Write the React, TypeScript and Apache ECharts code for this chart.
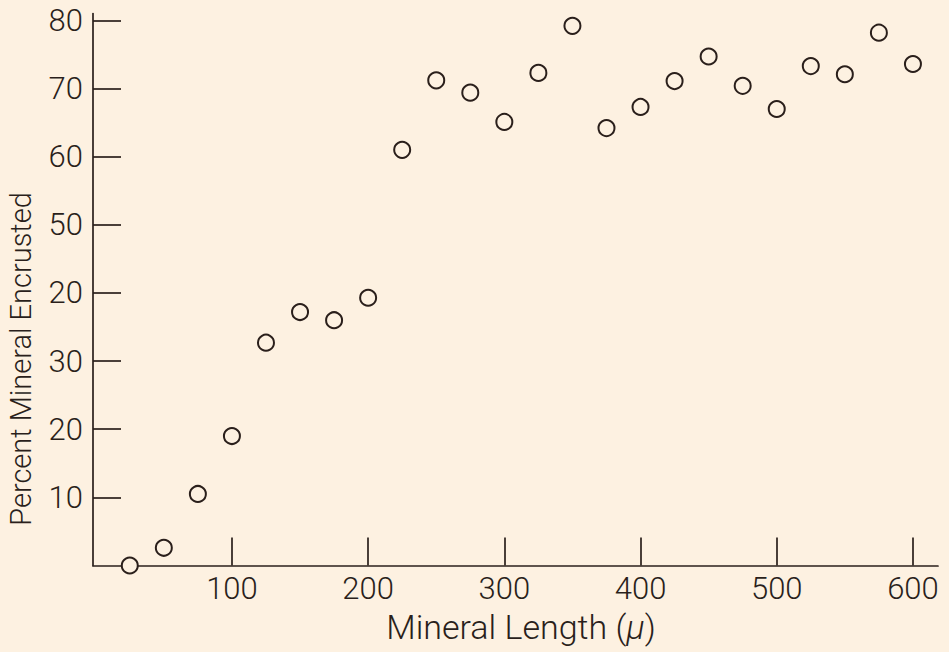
import React, { useEffect, useRef } from "react";
import * as echarts from "echarts";

const xValues = [25, 50, 75, 100, 125, 150, 175, 200, 225, 250, 275, 300, 325, 350, 375, 400, 425, 450, 475, 500, 525, 550, 575, 600];
const yValues = [0, 2.6, 10.5, 19.0, 32.7, 37.2, 36.0, 39.3, 61.0, 71.2, 69.4, 65.1, 72.3, 79.2, 64.2, 67.3, 71.1, 74.7, 70.4, 67.0, 73.3, 72.1, 78.2, 73.6];
const xTicks = [100, 200, 300, 400, 500, 600];
const yTicks = [10, 20, 30, 40, 50, 60, 70, 80];
const yTickLabels = ["10", "20", "30", "20", "50", "60", "70", "80"];
const xTitle = "Mineral Length (";
const yTitle = "Percent Mineral Encrusted";

const BG = "#fdf1e1";
const INK = "#2a1f1b";
const FONT = "Roboto, 'Liberation Sans', sans-serif";

export default function App() {
  const ref = useRef<HTMLDivElement>(null);
  useEffect(() => {
    if (!ref.current) return;
    const chart = echarts.init(ref.current, undefined, { renderer: "svg" });
    const data = xValues.map((x, i) => [x, yValues[i]]);
    chart.setOption({
      animation: false,
      backgroundColor: BG,
      grid: { left: 93, right: 11, top: 13.6, bottom: 86.5, containLabel: false },
      xAxis: {
        type: "value",
        min: -2,
        max: 618.4,
        splitLine: { show: false },
        axisLine: { show: true, lineStyle: { color: INK, width: 1.7 } },
        axisTick: { show: true, inside: true, length: 28, customValues: xTicks, lineStyle: { color: INK, width: 1.7 } },
        axisLabel: {
          customValues: xTicks,
          color: INK,
          fontFamily: FONT,
          fontWeight: 300,
          fontSize: 31,
          margin: 7,
          formatter: (v: number) => String(v),
        },
      },
      yAxis: {
        type: "value",
        min: 0,
        max: 81,
        splitLine: { show: false },
        axisLine: { show: true, onZero: false, lineStyle: { color: INK, width: 1.7 } },
        axisTick: { show: true, inside: true, length: 28, customValues: yTicks, lineStyle: { color: INK, width: 1.7 } },
        axisLabel: {
          customValues: yTicks,
          color: INK,
          fontFamily: FONT,
          fontWeight: 300,
          fontSize: 31,
          margin: 10,
          formatter: (v: number) => {
            const i = yTicks.indexOf(v);
            return i >= 0 ? yTickLabels[i] : "";
          },
        },
      },
      series: [
        {
          type: "scatter",
          data,
          symbol: "circle",
          symbolSize: 16,
          itemStyle: { color: BG, borderColor: INK, borderWidth: 2, opacity: 1 },
          z: 5,
        },
      ],
      graphic: [
        {
          type: "text",
          x: 521,
          y: 627,
          style: {
            text: xTitle + "{mu|\u03bc})",
            fill: INK,
            fontFamily: FONT,
            fontSize: 34,
            fontWeight: 300,
            textAlign: "center",
            textVerticalAlign: "middle",
            rich: { mu: { fontStyle: "italic", fontFamily: FONT, fontSize: 34, fill: INK, fontWeight: 300 } },
          },
        },
        {
          type: "text",
          x: 21,
          y: 359,
          rotation: Math.PI / 2,
          style: {
            text: yTitle,
            fill: INK,
            fontFamily: FONT,
            fontSize: 29,
            fontWeight: 300,
            textAlign: "center",
            textVerticalAlign: "middle",
          },
        },
      ],
    });
    return () => chart.dispose();
  }, []);
  return (
    <div
      ref={ref}
      style={{ position: "fixed", left: 0, top: 0, width: 949, height: 652, background: BG }}
    />
  );
}
